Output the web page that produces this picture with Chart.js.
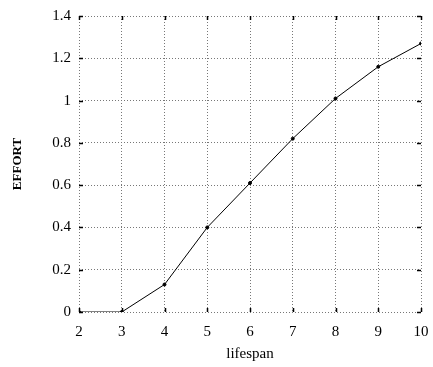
<!DOCTYPE html>
<html><head><meta charset="utf-8">
<script src="https://cdn.jsdelivr.net/npm/chart.js@4/dist/chart.umd.min.js"></script>
<style>html,body{margin:0;padding:0;background:#fff}#w{width:433px;height:367px}</style>
</head><body><div id="w"><canvas id="c"></canvas></div>
<script>
const lifespan = [2, 3, 4, 5, 6, 7, 8, 9, 10];
const effort = [0, 0, 0.13, 0.40, 0.61, 0.82, 1.01, 1.16, 1.27];
const xTitle = 'lifespan';
const yTitle = 'EFFORT';

const innerTicks = {
  id: 'innerTicks',
  afterDatasetsDraw(chart) {
    const {ctx, chartArea: a, scales: {x, y}} = chart;
    ctx.save();
    ctx.strokeStyle = '#000';
    ctx.lineWidth = 1.5;
    ctx.beginPath();
    x.ticks.forEach(t => {
      const px = Math.round(x.getPixelForValue(t.value)) + 0.5;
      ctx.moveTo(px, a.bottom); ctx.lineTo(px, a.bottom - 4);
      ctx.moveTo(px, a.top); ctx.lineTo(px, a.top + 4);
    });
    y.ticks.forEach(t => {
      const py = Math.round(y.getPixelForValue(t.value)) + 0.5;
      ctx.moveTo(a.left, py); ctx.lineTo(a.left + 4, py);
      ctx.moveTo(a.right, py); ctx.lineTo(a.right - 4, py);
    });
    ctx.stroke();
    ctx.restore();
  }
};

new Chart(document.getElementById('c'), {
  type: 'line',
  data: {
    datasets: [{
      data: lifespan.map((v, i) => ({x: v, y: effort[i]})),
      borderColor: '#000', backgroundColor: '#000', borderWidth: 1,
      pointRadius: 1.5, pointHoverRadius: 1.5, tension: 0, fill: false
    }]
  },
  options: {
    responsive: true, maintainAspectRatio: false, animation: false,
    layout: {padding: {left: 0, right: 12, top: 16, bottom: 0}},
    plugins: {legend: {display: false}, tooltip: {enabled: false}},
    scales: {
      x: {
        type: 'linear', min: 2, max: 10,
        afterFit: s => { s.height = 55; s.paddingRight = 0; s.paddingLeft = 0; },
        border: {display: false, dash: [1, 2]},
        grid: {color: '#777', lineWidth: 1, drawTicks: false},
        ticks: {stepSize: 1, color: '#000', padding: 11, font: {family: 'Liberation Serif', size: 15}},
        title: {display: true, text: xTitle, color: '#000', padding: {top: 3}, font: {family: 'Liberation Serif', size: 15}}
      },
      y: {
        min: 0, max: 1.4,
        afterFit: s => { s.width = 79; s.paddingTop = 0; s.paddingBottom = 0; },
        border: {display: false, dash: [1, 2]},
        grid: {color: '#777', lineWidth: 1, drawTicks: false},
        ticks: {stepSize: 0.2, color: '#000', padding: 8, font: {family: 'Liberation Serif', size: 15},
          callback: v => String(Math.round(v * 10) / 10)},
        title: {display: true, text: yTitle, color: '#000', padding: {top: 10, bottom: 10}, font: {family: 'Liberation Serif', size: 13, weight: 'bold'}}
      }
    }
  },
  plugins: [innerTicks]
});
</script></body></html>
